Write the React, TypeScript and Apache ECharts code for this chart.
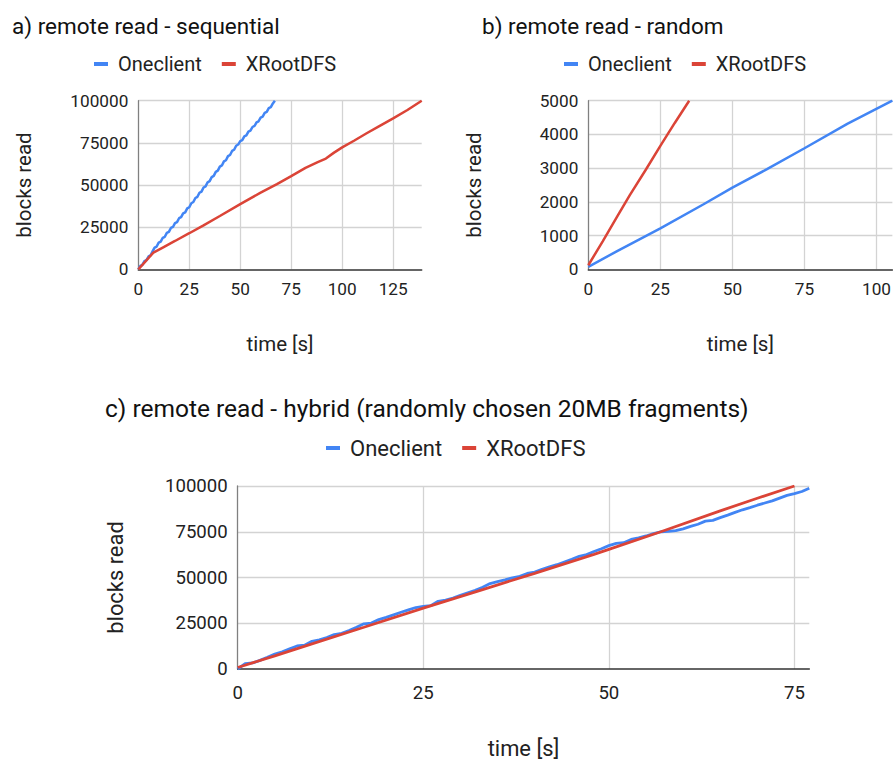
import React, { useEffect, useRef } from "react";
import * as echarts from "echarts";

const seriesNames = ["Oneclient", "XRootDFS"];
const titles = [
  "a) remote read - sequential",
  "b) remote read - random",
  "c) remote read - hybrid (randomly chosen 20MB fragments)",
];
const xName = "time [s]";
const yName = "blocks read";

// Panel a: sequential
const seqOneclient: number[][] = [
  [0, 0], [1, 2000], [2, 2600], [3, 4800], [4, 5400], [5, 7600], [6, 8200], [7, 10600],
  [8, 12900], [9, 13500], [10, 15800], [11, 16400], [12, 18700], [13, 19300], [14, 21600],
  [15, 22200], [16, 24500], [17, 25100], [18, 27400], [19, 28000], [20, 30300], [21, 30900],
  [22, 33200], [23, 33800], [24, 36100], [25, 36800], [26, 39200], [27, 39900], [28, 42300],
  [29, 43000], [30, 45400], [31, 46100], [32, 48500], [33, 49200], [34, 51600], [35, 52300],
  [36, 54700], [37, 55400], [38, 57800], [39, 58500], [40, 60900], [41, 61600], [42, 64000],
  [43, 64700], [44, 67100], [45, 67800], [46, 70200], [47, 70900], [48, 73300], [49, 74000],
  [50, 76000], [51, 76600], [52, 78800], [53, 79400], [54, 81600], [55, 82200], [56, 84400],
  [57, 85000], [58, 87200], [59, 87800], [60, 90000], [61, 90600], [62, 92800], [63, 93400],
  [64, 95600], [65, 96200], [66, 98400], [67, 100000],
];
const seqXRootDFS: number[][] = [
  [0, 0], [3, 4000], [5.5, 7400], [7.4, 9900], [12, 12900], [18, 16800], [25, 21400],
  [32, 26100], [40, 31600], [50, 38700], [60, 45500], [68, 50500], [75, 55300], [82, 60200],
  [88, 63600], [92, 65700], [96, 69200], [100, 72300], [106, 76400], [112, 80700],
  [118, 84800], [125, 89500], [132, 94500], [139, 100000],
];

// Panel b: random
const randOneclient: number[][] = [
  [0, 70], [10, 540], [25, 1215], [40, 1930], [50, 2420], [62, 2970], [75, 3590],
  [90, 4320], [105.5, 5000],
];
const randXRootDFS: number[][] = [
  [0, 120], [5, 830], [10, 1560], [14.4, 2200], [20, 2960], [25, 3660], [30, 4340], [35, 5000],
];

// Panel c: hybrid
const hybOneclient: number[][] = [
  [0, 0], [1, 2900], [2, 3300], [3, 4700], [4, 6400], [5, 8200], [6, 9400], [7, 11000],
  [8, 12600], [9, 13000], [10, 15100], [11, 15900], [12, 17200], [13, 18800], [14, 19500],
  [15, 21000], [16, 22800], [17, 24700], [18, 25100], [19, 27000], [20, 28200], [21, 29600],
  [22, 31000], [23, 32300], [24, 33600], [25, 34200], [26, 34600], [27, 37000], [28, 37700],
  [29, 38800], [30, 40200], [31, 41600], [32, 43000], [33, 44700], [34, 46700], [35, 47700],
  [36, 48700], [37, 49800], [38, 50600], [39, 52200], [40, 53000], [41, 54500], [42, 55800],
  [43, 57000], [44, 58500], [45, 60000], [46, 61600], [47, 62500], [48, 64200], [49, 65700],
  [50, 67400], [51, 68600], [52, 69000], [53, 70800], [54, 71700], [55, 72700], [56, 74000],
  [57, 75000], [58, 75200], [59, 75600], [60, 76600], [61, 77900], [62, 79100], [63, 80800],
  [64, 81200], [65, 82700], [66, 84100], [67, 85600], [68, 87000], [69, 88200], [70, 89500],
  [71, 90700], [72, 91900], [73, 93400], [74, 94900], [75, 95800], [76, 97000], [77, 98800],
];
const hybXRootDFS: number[][] = [
  [0, 800], [5, 7200], [10, 13700], [17, 22800], [25, 33300], [33, 43400], [40, 52300],
  [48, 62600], [50, 65400], [57, 75000], [65, 86400], [70, 93300], [75, 100000],
];

const BLUE = "#4285F4";
const RED = "#DB4437";
const FONT = "Roboto";
const TEXT = "#222222";

export default function App() {
  const ref = useRef<HTMLDivElement>(null);
  useEffect(() => {
    if (!ref.current) return;
    const chart = echarts.init(ref.current, undefined, { renderer: "svg" });

    const mkX = (gi: number, max: number, fs: number, margin: number, gap: number) => ({
      type: "value",
      gridIndex: gi,
      min: 0,
      max,
      interval: 25,
      name: xName,
      nameLocation: "middle",
      nameGap: gap,
      nameTextStyle: { fontSize: fs + 3.3, color: TEXT, fontFamily: FONT },
      axisLine: { show: true, onZero: false, lineStyle: { color: "#333333", width: 1.5 } },
      axisTick: { show: false },
      axisLabel: {
        fontSize: fs, color: TEXT, fontFamily: FONT, margin, showMaxLabel: false,
        formatter: (v: number) => String(v),
      },
      splitLine: { show: true, showMaxLine: false, showMinLine: false, lineStyle: { color: "#d3d3d3", width: 1.3 } },
    });
    const mkY = (gi: number, max: number, interval: number, fs: number, gap: number) => ({
      type: "value",
      gridIndex: gi,
      min: 0,
      max,
      interval,
      name: yName,
      nameLocation: "middle",
      nameGap: gap,
      nameTextStyle: { fontSize: fs + 3.3, color: TEXT, fontFamily: FONT },
      axisLine: { show: true, lineStyle: { color: "#808080", width: 1.3 } },
      axisTick: { show: false },
      axisLabel: {
        fontSize: fs, color: TEXT, fontFamily: FONT, margin: 10,
        formatter: (v: number) => String(v),
      },
      splitLine: { show: true, showMinLine: false, lineStyle: { color: "#d3d3d3", width: 1.3 } },
    });
    const mkLegend = (left: number, top: number, fs: number) => ({
      left,
      top,
      icon: "rect",
      itemWidth: 14,
      itemHeight: 4,
      itemGap: 20,
      data: seriesNames,
      textStyle: { fontSize: fs, color: TEXT, fontFamily: FONT, padding: [0, 0, 0, 5] },
    });
    const mkSeries = (name: string, data: number[][], gi: number, color: string, w: number) => ({
      type: "line",
      name,
      data,
      xAxisIndex: gi,
      yAxisIndex: gi,
      showSymbol: false,
      symbol: "none",
      lineStyle: { color, width: w },
      itemStyle: { color },
      clip: true,
    });

    chart.setOption({
      animation: false,
      backgroundColor: "#ffffff",
      title: [
        { text: titles[0], left: 7, top: 9, textStyle: { fontSize: 22.5, fontWeight: "normal", color: "#111", fontFamily: FONT } },
        { text: titles[1], left: 477, top: 9, textStyle: { fontSize: 22.5, fontWeight: "normal", color: "#111", fontFamily: FONT } },
        { text: titles[2], left: 100, top: 391, textStyle: { fontSize: 24.5, fontWeight: "normal", color: "#111", fontFamily: FONT } },
      ],
      legend: [mkLegend(89, 49, 20), mkLegend(559, 49, 20), mkLegend(321, 432, 22)],
      grid: [
        { left: 138.3, top: 100.7, width: 283.4, height: 168.6 },
        { left: 588.3, top: 100.7, width: 305, height: 168.6 },
        { left: 237.7, top: 486, width: 571.6, height: 183.3 },
      ],
      xAxis: [mkX(0, 139, 17.2, 11, 64), mkX(1, 105.5, 17.2, 11, 64), mkX(2, 77, 18.6, 14, 68)],
      yAxis: [mkY(0, 100000, 25000, 17.2, 104), mkY(1, 5000, 1000, 17.2, 104), mkY(2, 100000, 25000, 18.6, 111)],
      series: [
        mkSeries(seriesNames[0], seqOneclient, 0, BLUE, 2.5),
        mkSeries(seriesNames[1], seqXRootDFS, 0, RED, 2.5),
        mkSeries(seriesNames[0], randOneclient, 1, BLUE, 2.5),
        mkSeries(seriesNames[1], randXRootDFS, 1, RED, 2.5),
        mkSeries(seriesNames[0], hybOneclient, 2, BLUE, 2.8),
        mkSeries(seriesNames[1], hybXRootDFS, 2, RED, 2.8),
      ],
    });
    return () => chart.dispose();
  }, []);
  return (
    <div
      ref={ref}
      style={{ position: "fixed", left: 0, top: 0, width: 894, height: 760, background: "#fff" }}
    />
  );
}
